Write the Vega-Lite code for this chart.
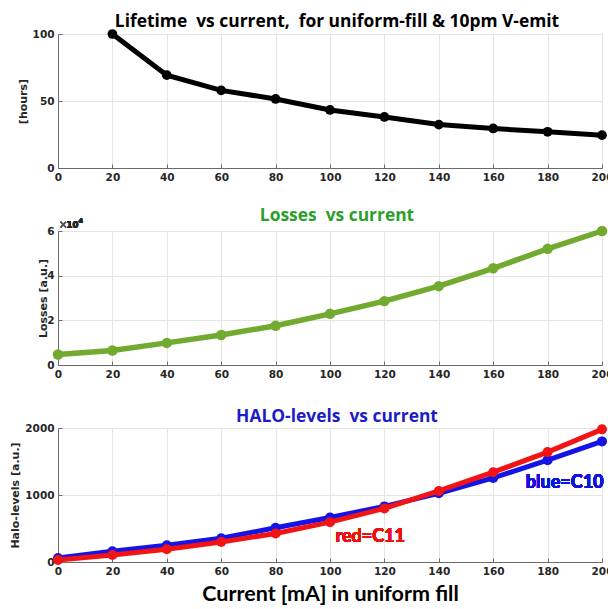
{
  "$schema": "https://vega.github.io/schema/vega-lite/v6.json",
  "background": "white",
  "padding": {"left": 9, "top": 12, "right": 0, "bottom": 0},
  "bounds": "flush",
  "spacing": 63,
  "config": {
    "view": {"stroke": "#8a8a8a", "strokeWidth": 1},
    "axis": {
      "labelFont": "DejaVu Sans",
      "labelFontWeight": "bold",
      "labelFontSize": 10.5,
      "labelColor": "#262626",
      "labelFlush": false,
      "labelOverlap": false,
      "labelPadding": 8,
      "titleFont": "DejaVu Sans",
      "titleFontWeight": "bold",
      "titleFontSize": 11,
      "titleColor": "#262626",
      "titlePadding": 4,
      "gridColor": "#e4e4e4",
      "gridWidth": 1,
      "domainColor": "#6a6a6a",
      "tickColor": "#6a6a6a",
      "tickSize": -4
    },
    "title": {
      "font": "Open Sans",
      "fontWeight": "bold",
      "fontSize": 17.4,
      "anchor": "middle",
      "frame": "group",
      "baseline": "alphabetic",
      "offset": 8,
      "dx": 7,
      "dy": 14
    }
  },
  "datasets": {
    "lifetime": [
      {"I": 20, "T": 100},
      {"I": 40, "T": 69.3},
      {"I": 60, "T": 57.9},
      {"I": 80, "T": 51.5},
      {"I": 100, "T": 43.3},
      {"I": 120, "T": 38.1},
      {"I": 140, "T": 32.4},
      {"I": 160, "T": 29.5},
      {"I": 180, "T": 27.0},
      {"I": 200, "T": 24.5}
    ],
    "losses": [
      {"I": 0, "L": 4700},
      {"I": 20, "L": 6500},
      {"I": 40, "L": 9900},
      {"I": 60, "L": 13400},
      {"I": 80, "L": 17600},
      {"I": 100, "L": 22900},
      {"I": 120, "L": 28600},
      {"I": 140, "L": 35300},
      {"I": 160, "L": 43300},
      {"I": 180, "L": 52000},
      {"I": 200, "L": 60000}
    ],
    "halo": [
      {"I": 0, "H": 60, "set": "C10"},
      {"I": 20, "H": 160, "set": "C10"},
      {"I": 40, "H": 250, "set": "C10"},
      {"I": 60, "H": 355, "set": "C10"},
      {"I": 80, "H": 510, "set": "C10"},
      {"I": 100, "H": 665, "set": "C10"},
      {"I": 120, "H": 830, "set": "C10"},
      {"I": 140, "H": 1025, "set": "C10"},
      {"I": 160, "H": 1255, "set": "C10"},
      {"I": 180, "H": 1520, "set": "C10"},
      {"I": 200, "H": 1800, "set": "C10"},
      {"I": 0, "H": 30, "set": "C11"},
      {"I": 20, "H": 105, "set": "C11"},
      {"I": 40, "H": 190, "set": "C11"},
      {"I": 60, "H": 300, "set": "C11"},
      {"I": 80, "H": 425, "set": "C11"},
      {"I": 100, "H": 595, "set": "C11"},
      {"I": 120, "H": 800, "set": "C11"},
      {"I": 140, "H": 1060, "set": "C11"},
      {"I": 160, "H": 1340, "set": "C11"},
      {"I": 180, "H": 1640, "set": "C11"},
      {"I": 200, "H": 1980, "set": "C11"}
    ]
  },
  "vconcat": [
    {
      "width": 544,
      "height": 134,
      "title": {"text": "Lifetime\u00a0 vs current,\u00a0 for uniform-fill & 10pm V-emit", "color": "#000000"},
      "data": {"name": "lifetime"},
      "encoding": {
        "x": {"field": "I", "type": "quantitative", "scale": {"domain": [0, 200], "nice": false},
              "axis": {"values": [0, 20, 40, 60, 80, 100, 120, 140, 160, 180, 200], "title": null}},
        "y": {"field": "T", "type": "quantitative", "scale": {"domain": [0, 100], "nice": false},
              "axis": {"values": [0, 50, 100], "title": "[hours]"}}
      },
      "mark": {"type": "line", "color": "#000000", "strokeWidth": 5, "point": {"filled": true, "size": 95, "color": "#000000"}}
    },
    {
      "width": 544,
      "height": 134,
      "title": {"text": "Losses\u00a0 vs current", "color": "#2a9f2a"},
      "data": {"name": "losses"},
      "layer": [
        {
          "mark": {"type": "line", "color": "#72aa30", "strokeWidth": 5.5, "point": {"filled": true, "size": 110, "color": "#72aa30"}},
          "encoding": {
            "x": {"field": "I", "type": "quantitative", "scale": {"domain": [0, 200], "nice": false},
                  "axis": {"values": [0, 20, 40, 60, 80, 100, 120, 140, 160, 180, 200], "title": null}},
            "y": {"field": "L", "type": "quantitative", "scale": {"domain": [0, 60000], "nice": false},
                  "axis": {"values": [0, 20000, 40000, 60000], "labelExpr": "datum.value / 10000", "title": "Losses [a.u.]", "titlePadding": -2}}
          }
        },
        {
          "mark": {"type": "text", "text": "\u00d7", "font": "DejaVu Sans", "fontSize": 10, "color": "#555555", "align": "left", "baseline": "alphabetic", "dx": 1, "dy": -3},
          "encoding": {"x": {"datum": 0}, "y": {"datum": 60000}}
        },
        {
          "mark": {"type": "text", "text": "10", "font": "DejaVu Sans", "fontWeight": "bold", "fontSize": 8.5, "color": "#262626", "align": "left", "baseline": "alphabetic", "dx": 8.5, "dy": -3},
          "encoding": {"x": {"datum": 0}, "y": {"datum": 60000}}
        },
        {
          "mark": {"type": "text", "text": "4", "font": "DejaVu Sans", "fontWeight": "bold", "fontSize": 6.5, "color": "#262626", "align": "left", "baseline": "alphabetic", "dx": 20.5, "dy": -8},
          "encoding": {"x": {"datum": 0}, "y": {"datum": 60000}}
        }
      ]
    },
    {
      "width": 544,
      "height": 134,
      "title": {"text": "HALO-levels\u00a0 vs current", "color": "#1c1cc8"},
      "data": {"name": "halo"},
      "layer": [
        {
          "transform": [{"filter": "datum.set === 'C10'"}],
          "mark": {"type": "line", "color": "#1414e6", "strokeWidth": 5, "point": {"filled": true, "size": 100, "color": "#1414e6"}},
          "encoding": {
            "x": {"field": "I", "type": "quantitative", "scale": {"domain": [0, 200], "nice": false},
                  "axis": {"values": [0, 20, 40, 60, 80, 100, 120, 140, 160, 180, 200], "title": "Current [mA] in uniform fill",
                           "titleFont": "Lato", "titleFontSize": 21.5, "titleColor": "#000000", "titlePadding": 7}},
            "y": {"field": "H", "type": "quantitative", "scale": {"domain": [0, 2000], "nice": false},
                  "axis": {"values": [0, 500, 1000, 1500, 2000], "format": "d", "title": "Halo-levels [a.u.]"}}
          }
        },
        {
          "transform": [{"filter": "datum.set === 'C11'"}],
          "mark": {"type": "line", "color": "#f21414", "strokeWidth": 5, "point": {"filled": true, "size": 100, "color": "#f21414"}},
          "encoding": {
            "x": {"field": "I", "type": "quantitative"},
            "y": {"field": "H", "type": "quantitative"}
          }
        },
        {
          "mark": {"type": "text", "text": "blue=C10", "font": "Lato", "fontWeight": "bold", "fontSize": 18, "color": "#1212e0", "align": "left", "baseline": "middle"},
          "encoding": {"x": {"datum": 172}, "y": {"datum": 1180}}
        },
        {
          "mark": {"type": "text", "text": "red=C11", "font": "Lato", "fontWeight": "bold", "fontSize": 18, "color": "#ee1111", "align": "left", "baseline": "middle"},
          "encoding": {"x": {"datum": 102}, "y": {"datum": 370}}
        }
      ]
    }
  ]
}
